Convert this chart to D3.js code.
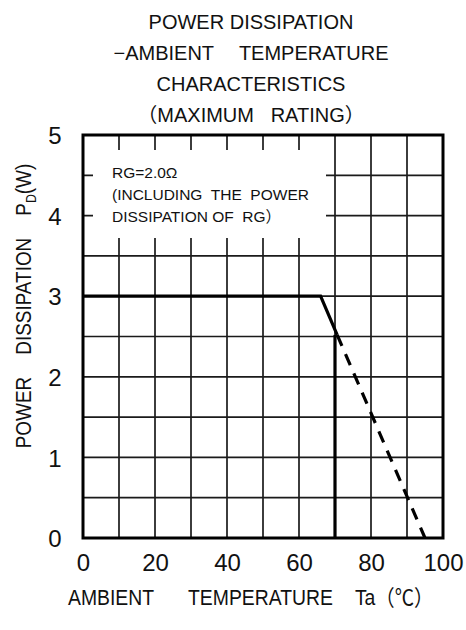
<!DOCTYPE html>
<html><head><meta charset="utf-8">
<script src="https://cdn.jsdelivr.net/npm/d3@7"></script>
<style>
body{margin:0;background:#fff;}
svg{display:block;font-family:"Liberation Sans",Arial,"Noto Sans CJK JP",sans-serif;}
</style></head>
<body>
<script>
const titleLines = ["POWER DISSIPATION", "\u2212AMBIENT\u3000 TEMPERATURE", "CHARACTERISTICS", "\uFF08MAXIMUM   RATING\uFF09"];
const xTicks = [0, 20, 40, 60, 80, 100];
const yTicks = [0, 1, 2, 3, 4, 5];
const xGrid = [10, 20, 30, 40, 50, 60, 70, 80, 90];
const yGrid = [0.5, 1, 1.5, 2, 2.5, 3, 3.5, 4, 4.5];
const solidTa = [0, 66, 70.6];
const solidPd = [3.0, 3.0, 2.52];
const dashTa = [70.6, 95];
const dashPd = [2.52, 0];
const limitTa = [70, 70];
const limitPd = [0, 2.52];
const noteLines = ["RG=2.0\u03A9", "(INCLUDING  THE  POWER", "DISSIPATION OF  RG\uFF09"];
const xTitleParts = ["AMBIENT", "TEMPERATURE", "Ta\uFF08\u2103\uFF09"];
const yTitleParts = ["POWER", "DISSIPATION", "P"];

const W = 466, H = 630;
const m = {l:83, r:23, t:135, b:92};
const iw = W - m.l - m.r, ih = H - m.t - m.b;
const svg = d3.select("body").append("svg").attr("width", W).attr("height", H);
const x = d3.scaleLinear().domain([0, 100]).range([0, iw]);
const y = d3.scaleLinear().domain([0, 5]).range([ih, 0]);
const g = svg.append("g").attr("transform", `translate(${m.l},${m.t})`);

// title
svg.append("g").selectAll("text").data(titleLines).join("text")
  .attr("x", 251).attr("y", (d, i) => 29 + i * 31)
  .attr("text-anchor", "middle").attr("font-size", 20).attr("fill", "#111")
  .style("white-space", "pre").text(d => d);

// grid
g.append("g").selectAll("line").data(xGrid).join("line")
  .attr("x1", d => x(d)).attr("x2", d => x(d)).attr("y1", 0).attr("y2", ih)
  .attr("stroke", "#1a1a1a").attr("stroke-width", 1.7);
g.append("g").selectAll("line").data(yGrid).join("line")
  .attr("y1", d => y(d)).attr("y2", d => y(d)).attr("x1", 0).attr("x2", iw)
  .attr("stroke", "#1a1a1a").attr("stroke-width", 1.7);

// note box
g.append("rect").attr("x", 10).attr("y", 15).attr("width", 233).attr("height", 88).attr("fill", "#fff");
g.append("g").selectAll("text").data(noteLines).join("text")
  .attr("x", 29).attr("y", (d, i) => 43 + i * 22)
  .attr("font-size", 15.5).attr("fill", "#111").style("white-space", "pre").text(d => d);

// curves
const line = d3.line().x(d => x(d[0])).y(d => y(d[1]));
g.append("path").datum(solidTa.map((t, i) => [t, solidPd[i]]))
  .attr("d", line).attr("fill", "none").attr("stroke", "#000").attr("stroke-width", 3.2);
g.append("path").datum(dashTa.map((t, i) => [t, dashPd[i]]))
  .attr("d", line).attr("fill", "none").attr("stroke", "#000").attr("stroke-width", 3.2).attr("stroke-dasharray", "12,9");
g.append("path").datum(limitTa.map((t, i) => [t, limitPd[i]]))
  .attr("d", line).attr("fill", "none").attr("stroke", "#000").attr("stroke-width", 3.2);

// frame
g.append("rect").attr("x", 0).attr("y", 0).attr("width", iw).attr("height", ih)
  .attr("fill", "none").attr("stroke", "#000").attr("stroke-width", 3);

// axes
const xa = g.append("g").attr("transform", `translate(0,${ih})`)
  .call(d3.axisBottom(x).tickValues(xTicks).tickSize(0).tickPadding(16).tickFormat(d3.format("d")));
xa.select(".domain").remove();
xa.selectAll("text").attr("font-size", 24).attr("font-family", null).attr("fill", "#111");

const ya = g.append("g")
  .call(d3.axisLeft(y).tickValues(yTicks).tickSize(0).tickFormat(d3.format("d")));
ya.select(".domain").remove();
ya.selectAll("text").attr("font-size", 24).attr("font-family", null).attr("fill", "#111")
  .attr("text-anchor", "middle").attr("x", -28).attr("dy", "0.36em");

// x axis title (slightly condensed face)
const sx = 0.88;
const xt = svg.append("text").attr("transform", `translate(68,605) scale(${sx},1)`)
  .attr("font-size", 22).attr("fill", "#111");
xt.append("tspan").text(xTitleParts[0]);
xt.append("tspan").attr("dx", 34 / sx).text(xTitleParts[1]);
xt.append("tspan").attr("dx", 22 / sx).text(xTitleParts[2]);

// y axis title
const yt = svg.append("text").attr("transform", `translate(31,306) rotate(-90) scale(${sx},1)`)
  .attr("text-anchor", "middle").attr("font-size", 21.5).attr("fill", "#111");
yt.append("tspan").text(yTitleParts[0]);
yt.append("tspan").attr("dx", 22 / sx).text(yTitleParts[1]);
yt.append("tspan").attr("dx", 22 / sx).text(yTitleParts[2]);
yt.append("tspan").attr("font-size", 14).attr("dy", 5).text("D");
yt.append("tspan").attr("dy", -5).text("(W)");
</script>
</body></html>
